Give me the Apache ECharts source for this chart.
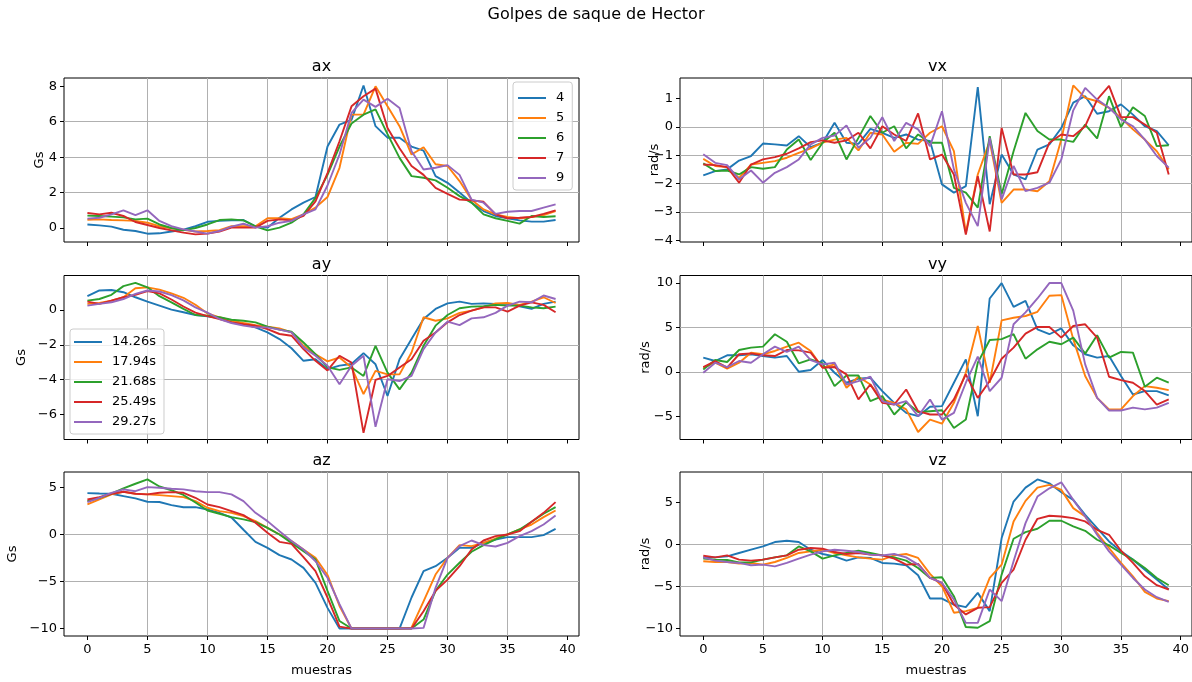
<!DOCTYPE html>
<html>
<head>
<meta charset="utf-8">
<script src="https://cdn.jsdelivr.net/npm/echarts@6/dist/echarts.min.js"></script>
<style>
  html, body { margin: 0; padding: 0; background: #fff; }
  #chart { width: 1192px; height: 682px; }
</style>
</head>
<body>
<div id="chart"></div>
<script>
// muestras (eje x)
const muestras = [0,1,2,3,4,5,6,7,8,9,10,11,12,13,14,15,16,17,18,19,20,21,22,23,24,25,26,27,28,29,30,31,32,33,34,35,36,37,38,39]
const nombres = ['4', '5', '6', '7', '9']
const tiempos = ['14.26s', '17.94s', '21.68s', '25.49s', '29.27s']
const colores = ['#1f77b4', '#ff7f0e', '#2ca02c', '#d62728', '#9467bd']

// ax
const ax_4 = [0.2,0.15,0.08,-0.1,-0.17,-0.32,-0.3,-0.2,-0.1,0.1,0.35,0.4,0.43,0.45,0.1,0.02,0.58,1.05,1.43,1.75,4.6,5.84,6.1,8.05,5.75,5.1,5.1,4.6,4.37,2.93,2.55,2.0,1.43,0.96,0.68,0.55,0.43,0.36,0.36,0.45]
const ax_5 = [0.47,0.49,0.45,0.43,0.4,0.3,0.1,-0.02,-0.1,-0.2,-0.17,-0.12,0.1,0.1,0.1,0.55,0.55,0.5,0.77,1.15,1.75,3.4,6.4,6.4,8.0,6.87,5.75,4.15,4.56,3.6,3.5,2.65,1.6,1.05,0.77,0.62,0.55,0.62,0.73,0.96]
const ax_6 = [0.7,0.68,0.64,0.6,0.49,0.53,0.2,0.0,-0.13,0.0,0.2,0.45,0.49,0.43,0.1,-0.13,0.02,0.3,0.77,1.7,3.0,4.6,5.9,6.4,6.7,5.3,3.96,2.93,2.84,2.69,2.27,1.8,1.43,0.77,0.55,0.4,0.25,0.68,0.62,0.66]
const ax_7 = [0.85,0.77,0.86,0.68,0.34,0.17,0.0,-0.13,-0.26,-0.36,-0.32,-0.2,0.02,0.02,0.02,0.4,0.49,0.43,0.68,1.5,3.1,4.9,6.87,7.44,7.87,5.65,4.5,3.5,3.0,2.27,1.93,1.6,1.56,1.48,0.77,0.55,0.58,0.62,0.8,1.0]
const ax_9 = [0.53,0.58,0.77,1.0,0.73,1.0,0.4,0.1,-0.08,-0.2,-0.32,-0.17,0.08,0.24,0.02,0.1,0.3,0.4,0.77,1.05,2.4,4.15,6.5,7.25,6.84,7.3,6.78,4.34,3.3,3.4,3.55,3.0,1.6,1.43,0.8,0.92,0.96,0.96,1.15,1.33]

// ay
const ay_4 = [0.79,1.12,1.15,1.02,0.73,0.48,0.25,0.02,-0.13,-0.29,-0.37,-0.46,-0.67,-0.81,-1.0,-1.29,-1.67,-2.2,-2.92,-2.83,-3.4,-3.2,-3.1,-2.48,-3.12,-4.94,-2.83,-1.67,-0.52,0.06,0.38,0.48,0.35,0.38,0.35,0.35,0.21,0.06,0.35,0.48]
const ay_5 = [0.35,0.4,0.54,0.73,1.25,1.3,1.17,0.95,0.7,0.3,-0.2,-0.42,-0.62,-0.75,-0.87,-0.96,-1.06,-1.29,-2.06,-2.54,-2.95,-2.73,-3.3,-4.83,-3.5,-3.7,-3.7,-2.44,-0.42,-0.62,-0.48,-0.17,-0.04,0.15,0.38,0.4,0.29,0.48,0.73,0.4]
const ay_6 = [0.54,0.63,0.87,1.37,1.56,1.3,0.79,0.44,0.06,-0.29,-0.33,-0.42,-0.56,-0.62,-0.71,-0.96,-1.13,-1.25,-1.87,-2.54,-3.3,-3.44,-3.3,-3.79,-2.06,-3.6,-4.56,-3.6,-2.06,-0.9,-0.29,0.1,0.19,0.21,0.29,0.25,0.25,0.15,0.1,0.19]
const ay_7 = [0.48,0.35,0.54,0.73,0.87,1.08,0.95,0.6,0.2,-0.15,-0.35,-0.52,-0.71,-0.81,-0.9,-1.1,-1.38,-1.48,-2.25,-2.92,-3.47,-2.63,-3.02,-7.06,-4.02,-3.79,-3.3,-2.83,-1.77,-1.29,-0.71,-0.29,-0.04,0.15,0.15,-0.1,0.25,0.44,0.29,-0.13]
const ay_9 = [0.25,0.35,0.44,0.63,0.92,1.12,1.06,0.85,0.55,0.15,-0.15,-0.52,-0.75,-0.9,-1.0,-1.0,-1.13,-1.29,-2.15,-2.63,-3.2,-4.27,-3.21,-2.63,-6.71,-3.98,-4.08,-3.79,-2.25,-1.29,-0.67,-0.87,-0.48,-0.42,-0.17,0.25,0.48,0.44,0.83,0.63]

// az
const az_4 = [4.4,4.36,4.33,4.08,3.83,3.48,3.45,3.12,2.9,2.9,2.66,2.3,1.8,0.5,-0.78,-1.42,-2.2,-2.66,-3.55,-5.14,-7.8,-10,-10,-10,-10,-10,-10,-6.7,-3.9,-3.37,-2.48,-1.42,-1.42,-0.89,-0.53,-0.28,-0.28,-0.28,-0.07,0.6]
const az_5 = [3.19,3.72,4.26,4.54,4.33,4.26,4.18,4.08,3.97,3.55,2.84,2.48,2.3,1.95,1.42,0.7,0.0,-0.7,-1.6,-2.48,-4.3,-7.6,-10,-10,-10,-10,-10,-9.9,-7.1,-4.26,-2.48,-1.13,-1.24,-0.89,-0.43,0.0,0.53,1.06,1.84,2.55]
const az_6 = [3.55,3.9,4.33,4.9,5.39,5.85,5.1,4.7,4.2,3.4,2.55,2.2,1.84,1.6,1.31,0.7,0.0,-0.89,-1.77,-2.66,-6.0,-9.2,-10,-10,-10,-10,-10,-10,-9.04,-6.0,-4.26,-3.0,-1.84,-1.13,-0.53,0.0,0.53,1.35,2.2,2.9]
const az_7 = [3.72,3.97,4.33,4.54,4.33,4.26,4.43,4.5,4.43,3.9,3.19,2.9,2.48,2.06,1.24,0.18,-0.78,-1.0,-2.41,-3.9,-6.7,-9.8,-10,-10,-10,-10,-10,-10,-8.16,-6.0,-4.8,-3.37,-1.6,-0.64,-0.18,0.0,0.35,1.35,2.3,3.44]
const az_9 = [3.44,3.9,4.43,4.79,4.6,5.03,4.96,4.86,4.79,4.6,4.5,4.5,4.26,3.55,2.3,1.42,0.35,-0.7,-1.6,-2.84,-4.6,-7.4,-10,-10,-10,-10,-10,-10,-9.93,-5.67,-2.48,-1.24,-0.64,-1.13,-1.28,-0.89,-0.18,0.35,1.06,2.02]

// vx
const vx_4 = [-1.71,-1.56,-1.5,-1.19,-1.03,-0.59,-0.62,-0.66,-0.33,-0.72,-0.56,0.14,-0.56,-0.6,-0.07,-0.21,-0.39,-0.27,-0.45,-0.5,-2.03,-2.32,-2.09,1.4,-2.73,-0.98,-1.68,-1.85,-0.8,-0.62,-0.04,0.85,1.08,0.46,0.55,0.79,0.43,0.02,-0.15,-0.65]
const vx_5 = [-1.13,-1.38,-1.42,-1.8,-1.33,-1.27,-1.21,-1.09,-0.92,-0.76,-0.56,-0.45,-0.39,-0.83,-0.21,-0.27,-0.88,-0.56,-0.6,-0.21,0.02,-0.86,-3.73,-1.68,-0.5,-2.68,-2.21,-2.21,-2.27,-1.92,-0.45,1.46,1.02,0.9,0.67,0.32,-0.09,-0.45,-0.86,-1.5]
const vx_6 = [-1.29,-1.56,-1.54,-1.68,-1.42,-1.48,-1.42,-0.8,-0.45,-1.17,-0.56,-0.21,-1.15,-0.39,0.38,-0.21,0.02,-0.76,-0.27,-0.56,-0.56,-2.15,-2.32,-2.85,-0.33,-2.38,-0.86,0.49,-0.15,-0.45,-0.45,-0.53,0.08,-0.41,1.08,-0.01,0.69,0.38,-0.68,-0.65]
const vx_7 = [-1.33,-1.35,-1.42,-1.97,-1.33,-1.15,-1.07,-0.95,-0.76,-0.54,-0.48,-0.56,-0.48,-0.21,-0.76,0.02,-0.27,-0.5,0.47,-1.15,-0.98,-1.68,-3.8,-1.74,-3.69,-0.04,-1.68,-1.68,-1.6,-0.56,-0.27,-0.33,0.02,0.96,1.44,0.34,0.34,0.08,-0.21,-1.68]
const vx_9 = [-0.97,-1.27,-1.35,-1.85,-1.54,-1.97,-1.62,-1.42,-1.15,-0.62,-0.39,-0.31,0.05,-0.74,-0.39,0.34,-0.5,0.14,-0.09,-0.68,0.55,-1.5,-2.68,-3.5,-0.39,-2.56,-1.38,-2.27,-2.15,-1.97,-1.15,0.58,1.37,0.96,0.67,0.26,0.02,-0.45,-1.03,-1.44]

// vy
const vy_4 = [1.62,1.24,1.88,1.88,2.0,1.8,1.62,1.8,0.04,0.23,1.35,-0.08,-1.2,-0.75,-0.64,-2.14,-3.46,-4.59,-4.96,-3.9,-3.83,-1.2,1.43,-4.96,8.27,10.0,7.33,8.0,4.8,4.25,4.9,3.0,2.0,1.62,1.8,-0.45,-2.52,-2.14,-2.14,-2.63]
const vy_5 = [0.49,1.05,0.38,1.05,2.18,2.0,2.37,2.86,3.3,2.37,0.49,0.86,-1.77,-0.53,-1.4,-3.1,-3.46,-4.2,-6.74,-5.34,-5.8,-3.46,-0.08,5.18,-1.2,5.8,6.1,6.3,6.77,8.57,8.65,3.7,-0.45,-2.9,-4.2,-4.2,-2.7,-1.58,-1.77,-2.03]
const vy_6 = [0.3,1.35,1.13,2.48,2.74,2.86,4.25,3.4,0.98,1.43,0.98,-1.58,-0.38,-0.38,-3.27,-2.7,-4.77,-3.4,-4.5,-4.4,-4.3,-6.28,-5.34,1.05,3.6,3.7,4.25,1.5,2.55,3.4,3.12,3.87,2.07,4.14,1.62,2.26,2.18,-1.65,-0.64,-1.2]
const vy_7 = [0.56,1.24,0.49,2.0,2.1,1.88,1.8,2.48,2.44,2.18,0.49,0.56,-0.26,-3.08,-1.4,-3.46,-3.65,-1.96,-4.4,-4.77,-4.77,-3.08,-0.26,-2.9,-1.0,1.5,2.74,4.32,5.07,5.07,3.87,5.18,5.37,3.87,-0.53,-0.9,-1.2,-2.14,-3.65,-3.08]
const vy_9 = [-0.08,1.05,0.56,1.24,1.05,2.0,2.86,2.26,2.86,1.35,0.86,1.05,-1.4,-1.02,-0.53,-3.27,-3.65,-3.27,-4.96,-3.08,-5.34,-4.59,-1.2,1.73,-2.14,-0.64,5.37,6.7,8.27,10.0,10.0,6.9,0.86,-2.9,-4.32,-4.32,-4.0,-4.2,-4.0,-3.46]

// vz
const vz_4 = [-1.54,-1.54,-1.42,-1.02,-0.63,-0.24,0.28,0.43,0.28,-0.63,-1.14,-1.42,-1.93,-1.54,-1.61,-2.2,-2.28,-2.48,-3.66,-6.42,-6.42,-7.13,-7.44,-5.75,-7.91,0.75,5.08,6.73,7.7,7.24,6.18,5.28,3.5,1.93,0.35,-0.83,-1.81,-3.0,-4.17,-5.35]
const vz_5 = [-2.0,-2.09,-2.09,-2.28,-2.2,-2.4,-2.09,-1.61,-1.02,-0.83,-0.63,-1.02,-1.3,-1.54,-1.69,-1.81,-1.3,-1.14,-1.61,-3.5,-4.96,-8.1,-7.91,-7.52,-3.98,-2.4,2.72,5.16,6.73,7.05,6.46,4.3,3.3,1.34,-0.43,-2.2,-3.78,-5.63,-6.42,-6.73]
const vz_6 = [-1.69,-1.81,-1.85,-2.13,-2.13,-1.81,-1.54,-1.3,-0.24,-0.83,-1.69,-1.3,-1.02,-0.75,-1.02,-1.3,-1.54,-1.93,-2.8,-3.98,-3.9,-6.14,-9.8,-9.88,-9.1,-3.58,0.67,1.46,1.85,2.8,2.8,2.13,1.61,0.55,-0.12,-1.02,-1.81,-2.8,-3.98,-4.84]
const vz_7 = [-1.34,-1.54,-1.3,-1.81,-1.93,-1.81,-1.54,-1.3,-0.63,-0.43,-0.51,-0.91,-1.14,-1.02,-1.22,-1.3,-1.69,-2.4,-2.32,-3.98,-4.57,-7.13,-8.3,-7.52,-7.44,-4.57,-3.0,0.55,3.03,3.39,3.31,3.11,2.72,1.73,1.14,-0.75,-2.2,-3.78,-4.84,-5.35]
const vz_9 = [-1.54,-1.93,-2.09,-2.2,-2.48,-2.4,-2.6,-2.2,-1.69,-1.22,-0.83,-0.63,-0.75,-0.9,-1.22,-1.3,-1.14,-1.54,-2.4,-3.98,-4.57,-6.54,-9.3,-9.3,-5.35,-6.73,-2.0,2.52,5.67,6.65,7.36,5.28,3.3,1.14,-0.83,-2.4,-3.98,-5.35,-6.26,-6.81]

const xTicks = [0, 5, 10, 15, 20, 25, 30, 35, 40]
const fuente = 'DejaVu Sans'

// orden de grids: ax, vx, ay, vy, az, vz
const paneles = [
  { titulo: 'ax', series: [ax_4, ax_5, ax_6, ax_7, ax_9], nombres: nombres, min: -0.79, max: 8.47, paso: 2, ticks: [0, 2, 4, 6, 8], unidad: 'Gs', gap: 18 },
  { titulo: 'vx', series: [vx_4, vx_5, vx_6, vx_7, vx_9], nombres: nombres, min: -4.06, max: 1.72, paso: 1, ticks: [-4, -3, -2, -1, 0, 1], unidad: 'rad/s', gap: 19 },
  { titulo: 'ay', series: [ay_4, ay_5, ay_6, ay_7, ay_9], nombres: tiempos, min: -7.44, max: 1.98, paso: 2, ticks: [-6, -4, -2, 0], unidad: 'Gs', gap: 36 },
  { titulo: 'vy', series: [vy_4, vy_5, vy_6, vy_7, vy_9], nombres: nombres, min: -7.58, max: 10.85, paso: 5, ticks: [-5, 0, 5, 10], unidad: 'rad/s', gap: 28 },
  { titulo: 'az', series: [az_4, az_5, az_6, az_7, az_9], nombres: nombres, min: -10.79, max: 6.64, paso: 5, ticks: [-10, -5, 0, 5], unidad: 'Gs', gap: 45 },
  { titulo: 'vz', series: [vz_4, vz_5, vz_6, vz_7, vz_9], nombres: nombres, min: -10.86, max: 8.58, paso: 5, ticks: [-10, -5, 0, 5], unidad: 'rad/s', gap: 28 }
]

const lefts = [64, 680]
const tops = [78, 275.5, 472]
const W = 515, H = 164

function fmt(v) {
  return String(v).replace('-', '\u2212')
}

let grids = [], xAxes = [], yAxes = [], series = [], titles = []

titles.push({
  text: 'Golpes de saque de Hector', left: 'center', top: 7, padding: 0,
  textStyle: { fontFamily: fuente, fontSize: 16, fontWeight: 'normal', color: '#000' }
})

paneles.forEach((p, i) => {
  let col = i % 2, row = Math.floor(i / 2)
  let abajo = row === 2
  grids.push({
    left: lefts[col], top: tops[row], width: W, height: H,
    show: true, borderColor: '#000', borderWidth: 1, backgroundColor: 'transparent'
  })
  titles.push({
    text: p.titulo, left: lefts[col] + W / 2, top: tops[row] - 19, textAlign: 'center', padding: 0,
    textStyle: { fontFamily: fuente, fontSize: 16, fontWeight: 'normal', color: '#000' }
  })
  xAxes.push({
    type: 'value', gridIndex: i, min: -1.95, max: 40.95, minInterval: 5, maxInterval: 5,
    axisLine: { show: false, onZero: false },
    axisTick: { show: true, length: 4, customValues: xTicks, lineStyle: { color: '#000' } },
    axisLabel: { show: abajo, customValues: xTicks, margin: 7, color: '#000', fontSize: 13, fontFamily: fuente, formatter: fmt },
    splitLine: { show: true, showMinLine: false, showMaxLine: false, lineStyle: { color: '#b0b0b0', width: 1 } },
    name: abajo ? 'muestras' : '', nameLocation: 'middle', nameGap: 28, nameMoveOverlap: false,
    nameTextStyle: { color: '#000', fontSize: 13, fontFamily: fuente }
  })
  yAxes.push({
    type: 'value', gridIndex: i, min: p.min, max: p.max, minInterval: p.paso, maxInterval: p.paso,
    axisLine: { show: false, onZero: false },
    axisTick: { show: true, length: 4, customValues: p.ticks, lineStyle: { color: '#000' } },
    axisLabel: { customValues: p.ticks, margin: 7, color: '#000', fontSize: 13, fontFamily: fuente, formatter: fmt },
    splitLine: { show: true, showMinLine: false, showMaxLine: false, lineStyle: { color: '#b0b0b0', width: 1 } },
    name: p.unidad, nameLocation: 'middle', nameGap: p.gap, nameRotate: 90, nameMoveOverlap: false,
    nameTextStyle: { color: '#000', fontSize: 13, fontFamily: fuente }
  })
  p.series.forEach((vals, k) => {
    series.push({
      name: p.nombres[k], type: 'line', xAxisIndex: i, yAxisIndex: i,
      data: muestras.map((m, j) => [m, vals[j]]),
      symbol: 'none', showSymbol: false, clip: true,
      lineStyle: { color: colores[k], width: 1.9 },
      itemStyle: { color: colores[k] }
    })
  })
})

const estiloLeyenda = {
  orient: 'vertical', icon: 'rect', itemWidth: 28, itemHeight: 2, itemGap: 6,
  backgroundColor: 'rgba(255,255,255,0.8)', borderColor: '#cccccc', borderWidth: 1, borderRadius: 3,
  selectedMode: false,
  textStyle: { color: '#000', fontSize: 13, lineHeight: 14, fontFamily: fuente, padding: [0, 0, 0, 5] }
}

var chart = echarts.init(document.getElementById('chart'))
var option = {
  animation: false,
  backgroundColor: '#fff',
  title: titles,
  grid: grids,
  xAxis: xAxes,
  yAxis: yAxes,
  legend: [
    Object.assign({}, estiloLeyenda, { data: nombres, left: 513, top: 82, padding: [9, 8, 5, 5] }),
    Object.assign({}, estiloLeyenda, { data: tiempos, left: 70, top: 329, padding: [6, 8, 5, 4] })
  ],
  series: series
}
chart.setOption(option)
</script>
</body>
</html>
